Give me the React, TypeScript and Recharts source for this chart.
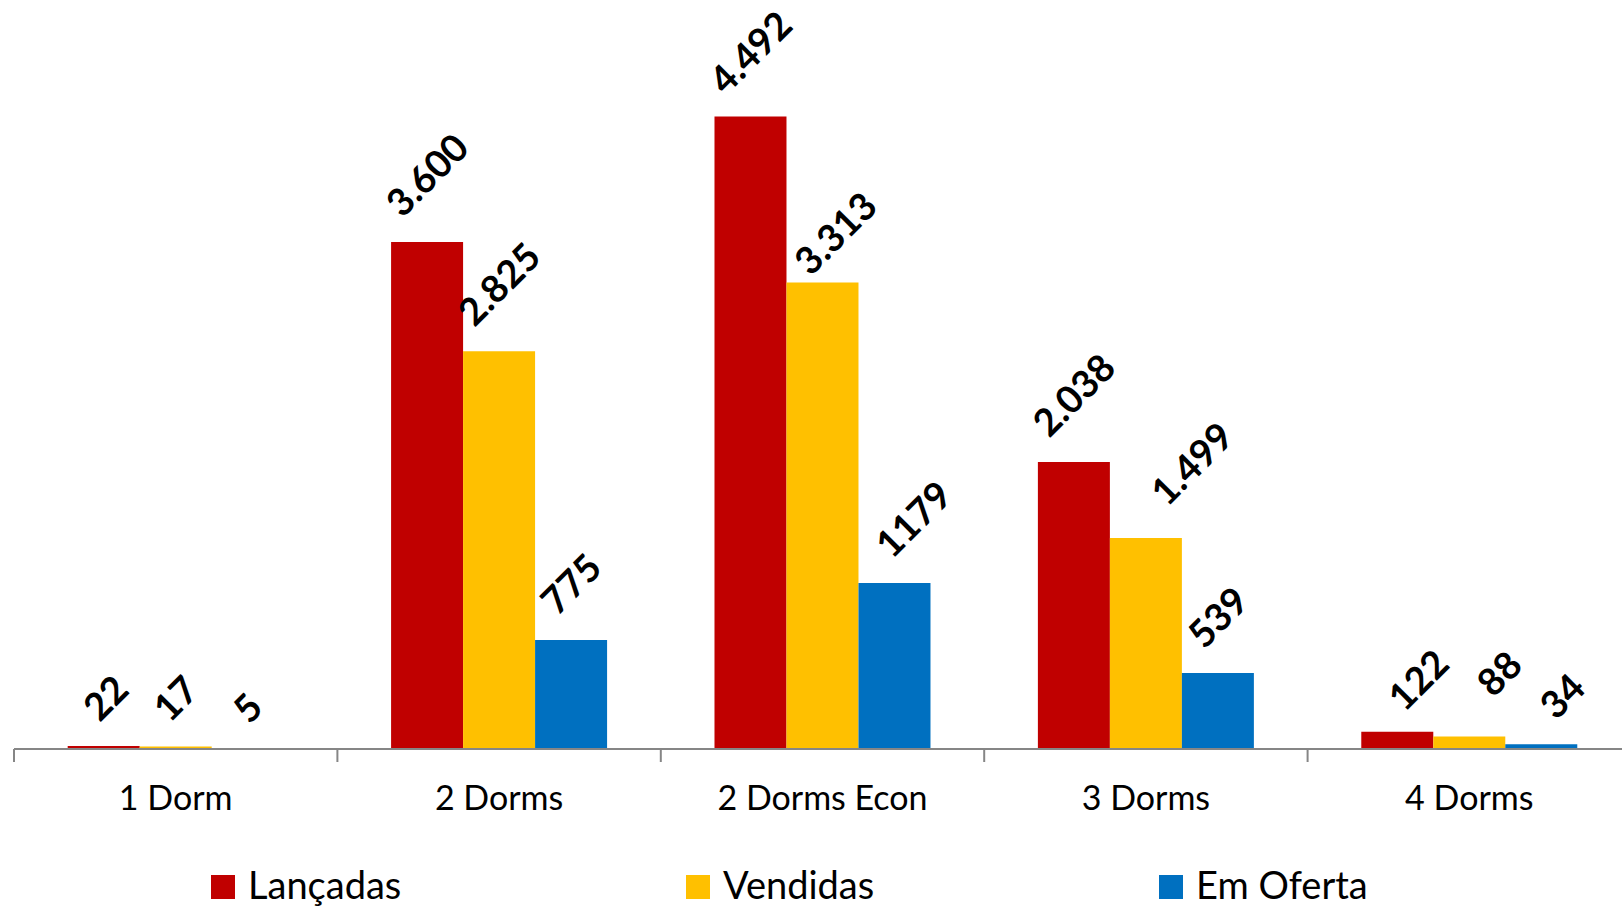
import React from 'react';
import { BarChart, Bar, XAxis, YAxis, LabelList } from 'recharts';

const categories = ['1 Dorm', '2 Dorms', '2 Dorms Econ', '3 Dorms', '4 Dorms'];
const lancadas = [22, 3600, 4492, 2038, 122];
const vendidas = [17, 2825, 3313, 1499, 88];
const emOferta = [5, 775, 1179, 539, 34];
const seriesNames = ['Lançadas', 'Vendidas', 'Em Oferta'];
const seriesKeys = ['lancadas', 'vendidas', 'emOferta'];
const seriesColors = ['#C00000', '#FFC000', '#0070C0'];
const Y_MAX = 5000;

// label nudges (style only): [dx, dy] per series per category
const labelNudges: Record<string, [number, number][]> = {
  lancadas: [[2, 0], [0, 0], [0, 3], [0, 0], [21, 4]],
  vendidas: [[0, 0], [0, 0], [13, 18], [46, -7], [30, -15]],
  emOferta: [[0, 0], [0, 0], [19, 0], [0, 0], [21, 0]],
};

const data = categories.map((c, i) => ({
  name: c,
  lancadas: lancadas[i],
  vendidas: vendidas[i],
  emOferta: emOferta[i],
}));

const CHART_W = 1631;
const CHART_H = 906;
const M_LEFT = 14;
const M_RIGHT = 0;
const M_TOP = 45;
const M_BOTTOM = 97;
const XAXIS_H = 60;
const HALF_BAND = (CHART_W - M_LEFT - M_RIGHT) / categories.length / 2;
const FONT = 'Lato, "Open Sans", sans-serif';

const fmt = (v: number, thousands: boolean) => {
  const s = String(v);
  return thousands ? s.replace(/\B(?=(\d{3})+(?!\d))/g, '.') : s;
};

const makeLabel = (key: string, values: number[], thousands: boolean) => (props: any) => {
  const { x, y, width, value } = props;
  let index = props.index;
  if (typeof index !== 'number') index = values.indexOf(Number(value));
  const text = fmt(Number(value), thousands);
  const fs = 38;
  let adv = 0;
  for (const ch of text) adv += ch === '.' ? 0.26 : 0.58;
  const ink = (adv - 0.08) * fs;
  const h = 0.72 * fs;
  const d = 24 + 0.3536 * (ink + h);
  const [nx, ny] = (labelNudges[key] && labelNudges[key][index]) || [0, 0];
  const cx = Number(x) + Number(width) / 2 + nx;
  const cy = Number(y) - d + ny;
  return (
    <text
      x={cx}
      y={cy}
      dy={0.36 * fs}
      transform={`rotate(-45 ${cx} ${cy})`}
      textAnchor="middle"
      fontFamily={FONT}
      fontWeight={700}
      fontSize={fs}
      fill="#000"
    >
      {text}
    </text>
  );
};

const CategoryTick = (props: any) => {
  const { x, y, payload } = props;
  const lx = Number(x) - HALF_BAND;
  return (
    <g>
      <line x1={lx} x2={lx} y1={y} y2={Number(y) + 13} stroke="#868686" strokeWidth={2} />
      <text x={x} y={Number(y) + 61} textAnchor="middle" fontFamily={FONT} fontSize={34} fill="#000">
        {payload.value}
      </text>
    </g>
  );
};

const legendLefts = [211, 686, 1159];

export default function App() {
  return (
    <div
      style={{
        position: 'absolute',
        left: 0,
        top: 0,
        width: 1622,
        height: 906,
        overflow: 'hidden',
        background: '#fff',
      }}
    >
      <BarChart
        width={CHART_W}
        height={CHART_H}
        data={data}
        margin={{ top: M_TOP, right: M_RIGHT, bottom: M_BOTTOM, left: M_LEFT }}
        barCategoryGap="16.6%"
        barGap={0}
      >
        <YAxis hide domain={[0, Y_MAX]} />
        <XAxis
          dataKey="name"
          height={XAXIS_H}
          axisLine={{ stroke: '#868686', strokeWidth: 2 }}
          tickLine={false}
          tickSize={0}
          tickMargin={0}
          interval={0}
          tick={<CategoryTick />}
        />
        <Bar dataKey="lancadas" name={seriesNames[0]} fill={seriesColors[0]} isAnimationActive={false}>
          <LabelList dataKey="lancadas" content={makeLabel('lancadas', lancadas, true)} />
        </Bar>
        <Bar dataKey="vendidas" name={seriesNames[1]} fill={seriesColors[1]} isAnimationActive={false}>
          <LabelList dataKey="vendidas" content={makeLabel('vendidas', vendidas, true)} />
        </Bar>
        <Bar dataKey="emOferta" name={seriesNames[2]} fill={seriesColors[2]} isAnimationActive={false}>
          <LabelList dataKey="emOferta" content={makeLabel('emOferta', emOferta, false)} />
        </Bar>
      </BarChart>
      {seriesNames.map((n, i) => (
        <div
          key={seriesKeys[i]}
          style={{ position: 'absolute', left: legendLefts[i], top: 865, height: 38, whiteSpace: 'nowrap' }}
        >
          <div
            style={{
              position: 'absolute',
              left: 0,
              top: 10,
              width: 24,
              height: 24,
              background: seriesColors[i],
            }}
          />
          <span
            style={{
              position: 'absolute',
              left: 37,
              top: 0,
              fontFamily: FONT,
              fontSize: 38,
              lineHeight: '38px',
              color: '#000',
            }}
          >
            {n}
          </span>
        </div>
      ))}
    </div>
  );
}
